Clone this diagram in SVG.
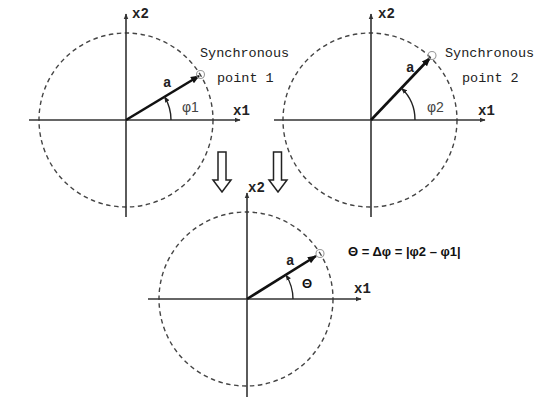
<svg xmlns="http://www.w3.org/2000/svg" width="535" height="401" viewBox="0 0 535 401">
<defs>
<style>
.axis{stroke:#333;stroke-width:1.6;fill:none}
.circ{stroke:#444;stroke-width:1.4;fill:none;stroke-dasharray:4.5 3.5}
.vec{stroke:#111;stroke-width:2.6;fill:none}
.arc{stroke:#222;stroke-width:1.4;fill:none}
.pt{stroke:#999;stroke-width:1.1;fill:none}
.mono{font-family:"Liberation Mono","Courier New",monospace;font-size:14px;font-weight:bold;fill:#222}
.mono2{font-family:"Liberation Mono","Courier New",monospace;font-size:13.5px;fill:#222}
.sans{font-family:"Liberation Sans",Arial,sans-serif;font-size:14px;fill:#444}
.eq{font-family:"Liberation Sans",Arial,sans-serif;font-size:13px;font-weight:bold;fill:#111}
.hollow{fill:#fff;stroke:#222;stroke-width:1.5}
</style>
<marker id="ax" viewBox="0 0 10 10" refX="9" refY="5" markerWidth="6" markerHeight="6" orient="auto" markerUnits="userSpaceOnUse"><path d="M0,1 L10,5 L0,9 z" fill="#333"/></marker>
<marker id="vh" viewBox="0 0 10 10" refX="9" refY="5" markerWidth="9" markerHeight="9" orient="auto" markerUnits="userSpaceOnUse"><path d="M0,1 L10,5 L0,9 z" fill="#111"/></marker>
<marker id="ah" viewBox="0 0 10 10" refX="9" refY="5" markerWidth="6" markerHeight="6" orient="auto" markerUnits="userSpaceOnUse"><path d="M0,1 L10,5 L0,9 z" fill="#222"/></marker>
</defs>
<rect width="535" height="401" fill="#fff"/>

<g id="diagram1">
<circle class="circ" cx="126" cy="120" r="87"/>
<line class="axis" x1="29" y1="120" x2="240" y2="120" marker-end="url(#ax)"/>
<line class="axis" x1="126" y1="217" x2="126" y2="14" marker-end="url(#ax)"/>
<line class="vec" x1="126" y1="120" x2="199" y2="76" marker-end="url(#vh)"/>
<circle class="pt" cx="200.5" cy="74.5" r="4"/>
<path class="arc" d="M171,120 A45,45 0 0 0 164.6,96.8" marker-end="url(#ah)"/>
<text class="mono" x="132" y="18">x2</text>
<text class="mono" x="233" y="115">x1</text>
<text class="mono" x="163" y="87">a</text>
<text class="sans" x="182" y="112">φ1</text>
<text class="mono2" x="200" y="57">Synchronous</text>
<text class="mono2" x="217" y="82">point 1</text>
</g>

<g id="diagram2">
<circle class="circ" cx="370" cy="120" r="87"/>
<line class="axis" x1="274" y1="120" x2="485" y2="120" marker-end="url(#ax)"/>
<line class="axis" x1="371" y1="217" x2="371" y2="14" marker-end="url(#ax)"/>
<line class="vec" x1="371" y1="120" x2="430" y2="58" marker-end="url(#vh)"/>
<circle class="pt" cx="432" cy="55.5" r="4"/>
<path class="arc" d="M415,120 A44,44 0 0 0 401.6,88.3" marker-end="url(#ah)"/>
<text class="mono" x="378" y="18">x2</text>
<text class="mono" x="478" y="115">x1</text>
<text class="mono" x="406" y="72">a</text>
<text class="sans" x="427" y="112">φ2</text>
<text class="mono2" x="445" y="57">Synchronous</text>
<text class="mono2" x="462" y="82">point 2</text>
</g>

<g id="diagram3">
<circle class="circ" cx="246" cy="299" r="87"/>
<line class="axis" x1="148" y1="299" x2="361" y2="299" marker-end="url(#ax)"/>
<line class="axis" x1="247" y1="397" x2="247" y2="193" marker-end="url(#ax)"/>
<line class="vec" x1="247" y1="299" x2="316" y2="256" marker-end="url(#vh)"/>
<circle class="pt" cx="320" cy="253.5" r="4"/>
<path class="arc" d="M293,299 A46,46 0 0 0 286,275" marker-end="url(#ah)"/>
<text class="mono" x="248" y="192">x2</text>
<text class="mono" x="354" y="293">x1</text>
<text class="mono" x="286" y="265">a</text>
<text class="eq" x="302" y="288">Θ</text>
<text class="eq" x="348" y="256">Θ = Δφ = |φ2 – φ1|</text>
</g>

<g id="connectors">
<path class="hollow" d="M218,152 H226 V180 H231 L222,192 L213,180 H218 Z"/>
<path class="hollow" d="M273.5,152 H281.5 V180 H287 L278,192 L269,180 H273.5 Z"/>
</g>
</svg>
